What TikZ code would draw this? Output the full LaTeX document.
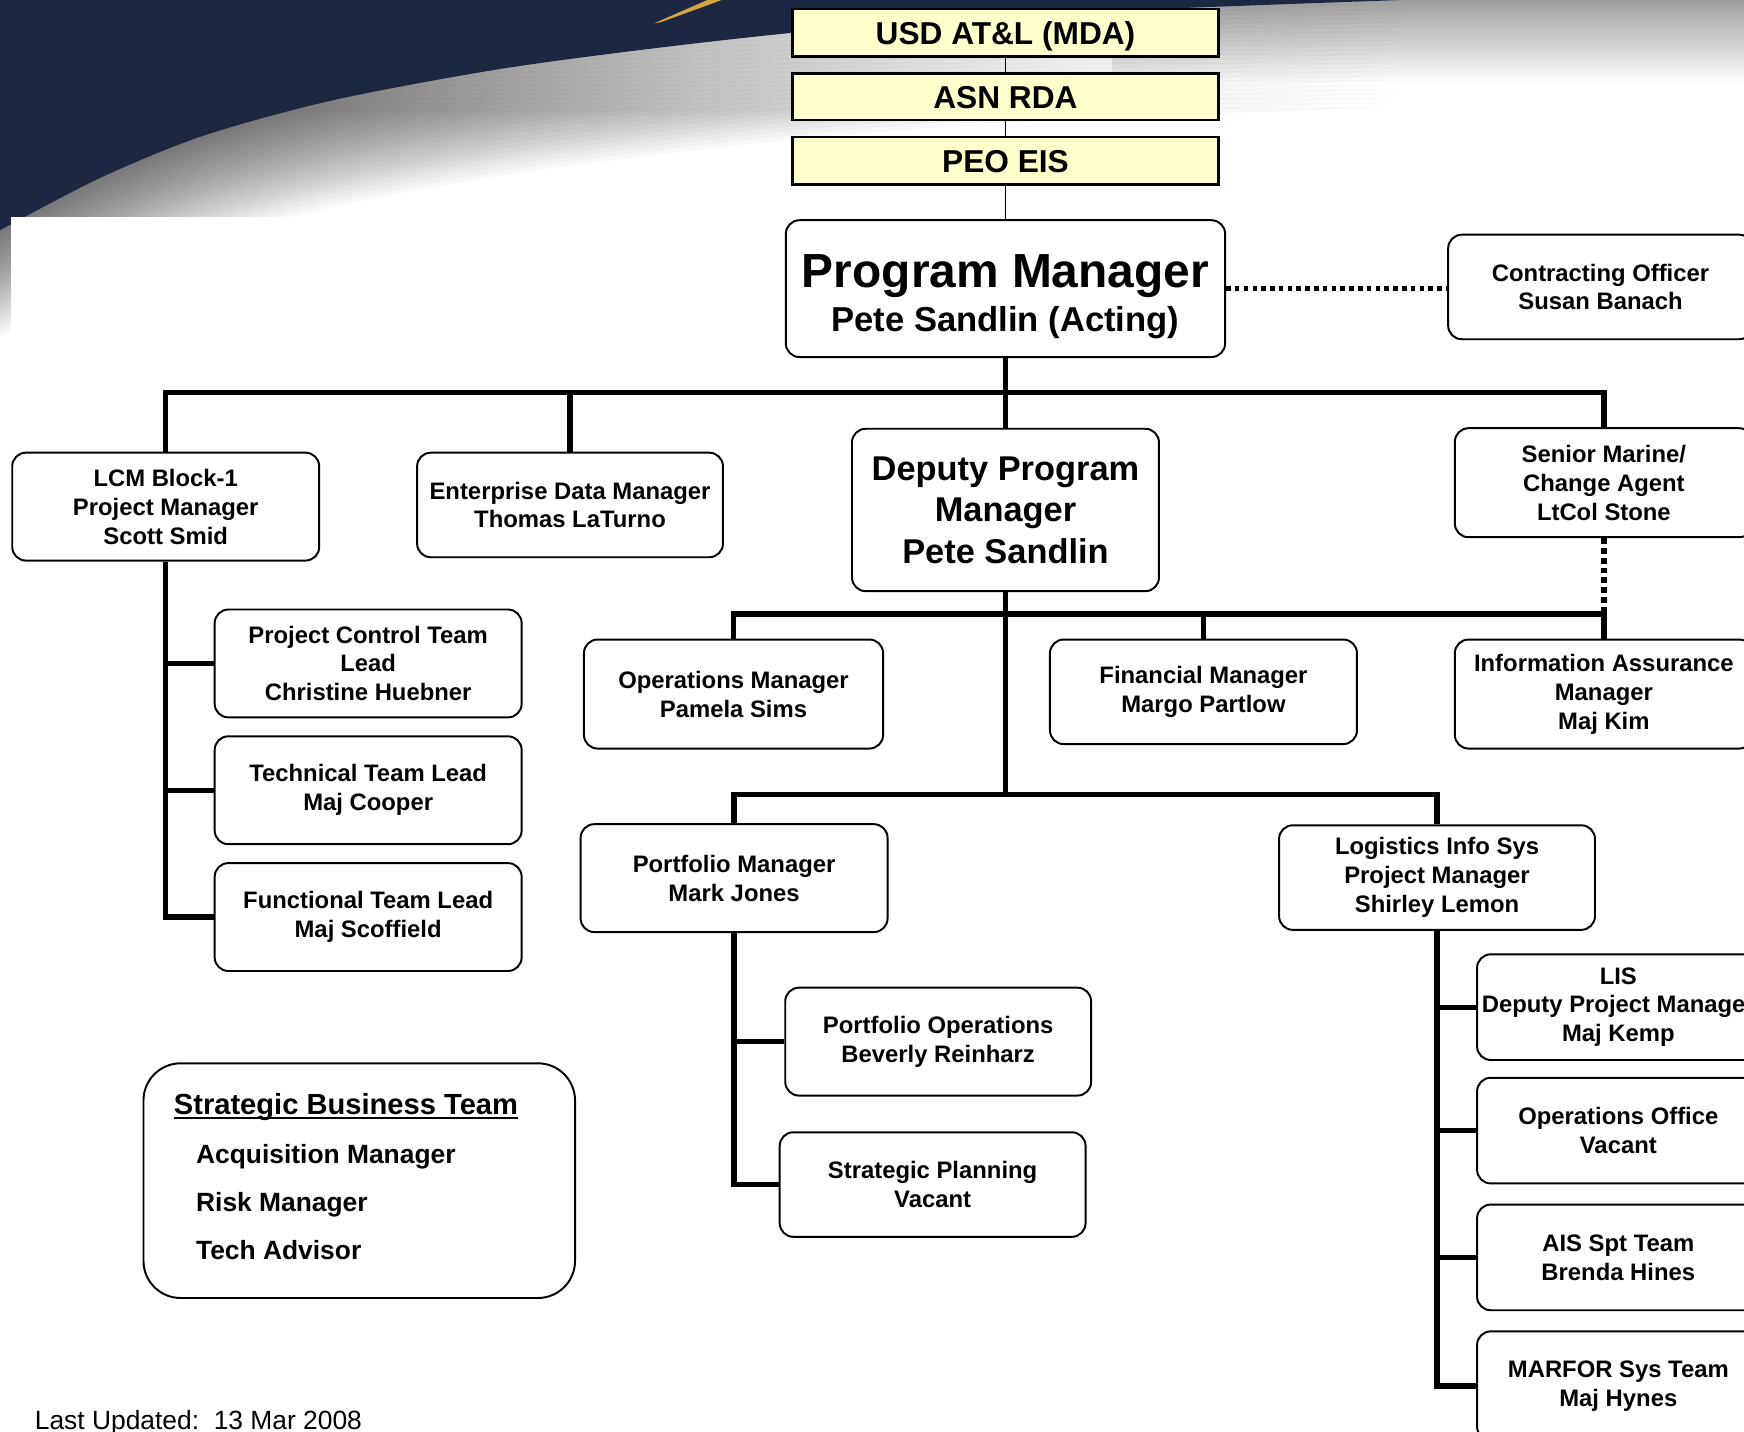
\documentclass[tikz,border=0pt]{standalone}
\usepackage{fontspec}
\setmainfont{Liberation Sans}
\definecolor{navy}{HTML}{1C2841}
\definecolor{paleyellow}{HTML}{FFFFCC}
\definecolor{spear}{HTML}{D9A441}
\newcommand\ulinetext[1]{\setbox0\hbox{#1}\rlap{\rule[-2.4pt]{\wd0}{1.1pt}}\box0}

\tikzset{
	orgbox/.style={draw, line width=1pt, rounded corners=7pt, fill=white, align=center, inner sep=0pt,
		font=\bfseries\fontsize{12.2}{14.8}\selectfont},
	boxsize/.style 2 args={minimum width=#1*0.02cm, minimum height=#2*0.02cm},
	topbox/.style={draw, line width=1.3pt, fill=paleyellow, inner sep=0pt, boxsize={383}{43},
		text height=11.6pt, text depth=0pt, font=\bfseries\fontsize{16.2}{19}\selectfont},
	bus/.style={line width=2.7pt},
	feed/.style={line width=0.6pt},
	dotline/.style={line width=2.7pt, dash pattern=on 2.3pt off 2.2pt},
	dotdrop/.style={line width=2.7pt, dash pattern=on 3pt off 2pt},
	listitem/.style={anchor=base west, inner sep=0pt, font=\bfseries\fontsize{13.5}{16}\selectfont},
}

\begin{document}
\begin{tikzpicture}[x=0.02cm, y=-0.02cm]
	\useasboundingbox (0,0) rectangle (1568,1287);
	\clip (0,0) rectangle (1568,1287);

	\fill[white] (0,0) rectangle (1568,1287);
	\shade[top color=black!38, bottom color=white] (1000,0) rectangle (1568,75);
	\foreach \k in {1,...,24}
		\fill[black, opacity=0.027, yshift=-\k*0.08cm]
			(0,0) -- (1260,0)
			-- plot[smooth] coordinates {(1260,0) (950,12) (750,26) (600,42) (450,62) (300,90) (183,122) (90,160) (0,207)}
			-- cycle;
	\fill[navy]
		(0,0) -- (1260,0)
		-- plot[smooth] coordinates {(1260,0) (950,12) (750,26) (600,42) (450,62) (300,90) (183,122) (90,160) (0,207)}
		-- cycle;
	\fill[spear] (588,21) -- (636,0) -- (649,0) -- (594,20) -- cycle;
	\fill[white] (10,195) rectangle (1568,1287);

	\node[topbox] (usd) at (904,29.5) {USD AT\&L (MDA)};
	\node[topbox, boxsize={383}{42}] (asn) at (904,87) {ASN RDA};
	\node[topbox] (peo) at (904,144.5) {PEO EIS};

	\node[orgbox, boxsize={395}{123}, text height=44pt, text depth=0.2pt,
		font=\bfseries\fontsize{17.7}{22.6}\selectfont] (pm) at (904,259.5)
		{{\fontsize{24.5}{22.6}\selectfont Program Manager}\\Pete Sandlin (Acting)};
	\node[orgbox, boxsize={274}{94}] (co) at (1439,258) {Contracting Officer\\Susan Banach};

	\node[orgbox, boxsize={276}{97}] (lcm) at (149,455.5) {LCM Block-1\\Project Manager\\Scott Smid};
	\node[orgbox, boxsize={275}{94}] (edm) at (512.5,454) {Enterprise Data Manager\\Thomas LaTurno};
	\node[orgbox, boxsize={276}{146}, font=\bfseries\fontsize{17.6}{21.3}\selectfont] (dpm) at (904,458.5)
		{Deputy Program\\Manager\\Pete Sandlin};
	\node[orgbox, boxsize={268}{98}] (smc) at (1442,434) {Senior Marine/\\Change Agent\\LtCol Stone};

	\node[orgbox, boxsize={276}{97}] (pct) at (331,596.5) {Project Control Team\\Lead\\Christine Huebner};
	\node[orgbox, boxsize={276}{97}] (ttl) at (331,710.5) {Technical Team Lead\\Maj Cooper};
	\node[orgbox, boxsize={276}{97}] (ftl) at (331,824.5) {Functional Team Lead\\Maj Scoffield};

	\node[orgbox, boxsize={269}{98}] (opm) at (659.5,624) {Operations Manager\\Pamela Sims};
	\node[orgbox, boxsize={276}{94}] (fin) at (1082,622) {Financial Manager\\Margo Partlow};
	\node[orgbox, boxsize={268}{98}] (iam) at (1442,624) {Information Assurance\\Manager\\Maj Kim};

	\node[orgbox, boxsize={276}{97}] (pfm) at (660,789.5) {Portfolio Manager\\Mark Jones};
	\node[orgbox, boxsize={284}{94}] (lis) at (1292,789) {Logistics Info Sys\\Project Manager\\Shirley Lemon};

	\node[orgbox, boxsize={275}{97}] (pfo) at (843.5,936.5) {Portfolio Operations\\Beverly Reinharz};
	\node[orgbox, boxsize={275}{94}] (spl) at (838.5,1065) {Strategic Planning\\Vacant};

	\node[orgbox, boxsize={254}{95}] (ldpm) at (1455,905.5) {LIS\\Deputy Project Manager\\Maj Kemp};
	\node[orgbox, boxsize={254}{95}] (opo) at (1455,1016.5) {Operations Office\\Vacant};
	\node[orgbox, boxsize={254}{95}] (ais) at (1455,1130.5) {AIS Spt Team\\Brenda Hines};
	\node[orgbox, boxsize={254}{98}] (mar) at (1455,1246) {MARFOR Sys Team\\Maj Hynes};

	\node[draw, line width=1pt, rounded corners=19pt, boxsize={388}{211}] (sbt) at (323,1061.5) {};
	\node[listitem, font=\bfseries\fontsize{14.9}{17}\selectfont] (sbthead) at (156,1002) {\ulinetext{Strategic Business Team}};
	\node[listitem] (sbtacq) at (176,1046.5) {Acquisition Manager};
	\node[listitem] (sbtrisk) at (176,1089.5) {Risk Manager};
	\node[listitem] (sbttech) at (176,1132.5) {Tech Advisor};

	\node[anchor=base west, inner sep=0pt, font=\fontsize{13.5}{16}\selectfont] (stamp) at (31,1285)
		{Last Updated:\ \ 13 Mar 2008};

	\coordinate (busa) at (904,353);
	\coordinate (busb) at (904,552);
	\coordinate (busc) at (904,714);

	\draw[feed] (usd) -- (asn);
	\draw[feed] (asn) -- (peo);
	\draw[feed] (peo) -- (pm);
	\draw[dotline] (pm.east) -- (pm.east -| co.west);

	\draw[bus] (pm.south) -- (dpm.north);
	\draw[bus] (lcm.north) |- (busa) -| (smc.north);
	\draw[bus] (edm.north) -- (edm.north |- busa);

	\draw[bus] (dpm.south) -- (busc);
	\draw[bus] (opm.north) |- (busb) -| (iam.north);
	\draw[bus] (fin.north) -- (fin.north |- busb);
	\draw[dotdrop] (smc.south) -- (smc.south |- busb);

	\draw[bus] (pfm.north) |- (busc) -| (lis.north);

	\draw[bus] (lcm.south) |- (pct.west);
	\draw[bus] (lcm.south) |- (ttl.west);
	\draw[bus] (lcm.south) |- (ftl.west);

	\draw[bus] (pfm.south) |- (pfo.west);
	\draw[bus] (pfm.south) |- (spl.west);

	\draw[bus] (lis.south) |- (ldpm.west);
	\draw[bus] (lis.south) |- (opo.west);
	\draw[bus] (lis.south) |- (ais.west);
	\draw[bus] (lis.south) |- (mar.west);
\end{tikzpicture}
\end{document}
